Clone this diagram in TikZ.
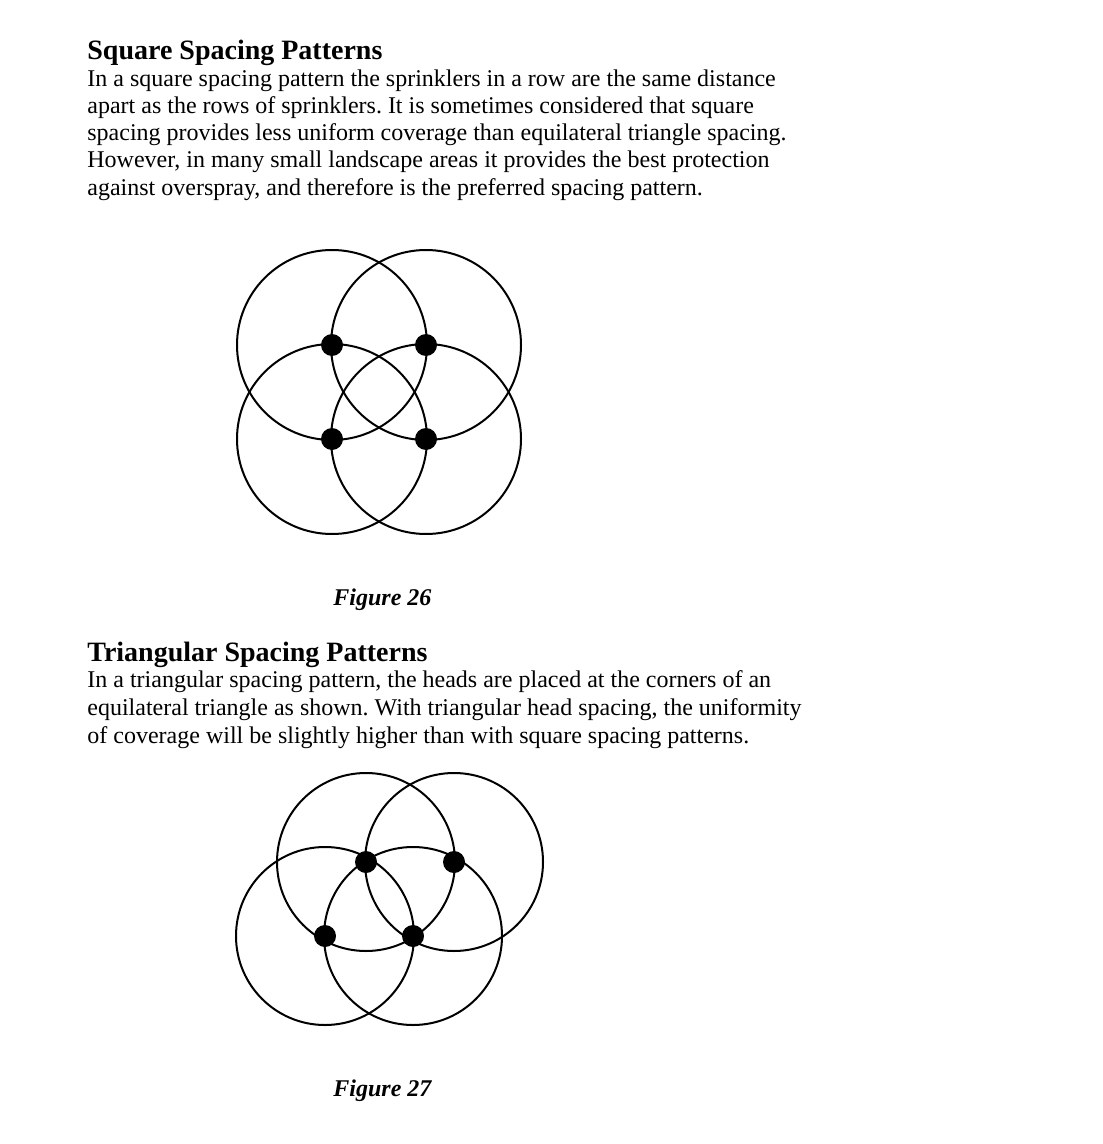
\documentclass[tikz,border=0pt]{standalone}
\usepackage{fontspec}
\setmainfont{Liberation Serif}
\frenchspacing
\begin{document}
\begin{tikzpicture}[x=0.5pt,y=-0.5pt,
  body/.style={anchor=base west,inner sep=0pt,font=\fontsize{12pt}{14pt}\selectfont\frenchspacing},
  head/.style={anchor=base west,inner sep=0pt,font=\fontsize{14pt}{16pt}\selectfont\bfseries},
  figcap/.style={anchor=base west,inner sep=0pt,font=\fontsize{12pt}{14pt}\selectfont\bfseries\itshape},
  ring/.style={draw,line width=1pt},
  head spot/.style={circle,fill=black,inner sep=0pt,minimum size=11pt}]
\useasboundingbox (0,0) rectangle (1102,1144);
\node[head] (t1) at (87,60) {Square Spacing Patterns};
\node[body] (l1) at (87,87) {In a square spacing pattern the sprinklers in a row are the same distance};
\node[body] (l2) at (87,114) {apart as the rows of sprinklers. It is sometimes considered that square};
\node[body] (l3) at (87,141) {spacing provides less uniform coverage than equilateral triangle spacing.};
\node[body] (l4) at (87,168) {However, in many small landscape areas it provides the best protection};
\node[body] (l5) at (87,196) {against overspray, and therefore is the preferred spacing pattern.};
% Figure 26
\foreach \n/\x/\y in {a/332/345,b/426/345,c/332/439,d/426/439}{
  \draw[ring] (\x,\y) circle[radius=47.5pt];
  \node[head spot] (\n) at (\x,\y) {};
}
\node[figcap] (f26) at (333,605) {Figure 26};
\node[head] (t2) at (87,661) {Triangular Spacing Patterns};
\node[body] (m1) at (87,687) {In a triangular spacing pattern, the heads are placed at the corners of an};
\node[body] (m2) at (87,715) {equilateral triangle as shown. With triangular head spacing, the uniformity};
\node[body] (m3) at (87,743) {of coverage will be slightly higher than with square spacing patterns.};
% Figure 27
\foreach \n/\x/\y in {e/366/862,f/454/862,g/325/936,h/413/936}{
  \draw[ring] (\x,\y) circle[radius=44.5pt];
  \node[head spot] (\n) at (\x,\y) {};
}
\node[figcap] (f27) at (333,1096) {Figure 27};
\end{tikzpicture}
\end{document}
